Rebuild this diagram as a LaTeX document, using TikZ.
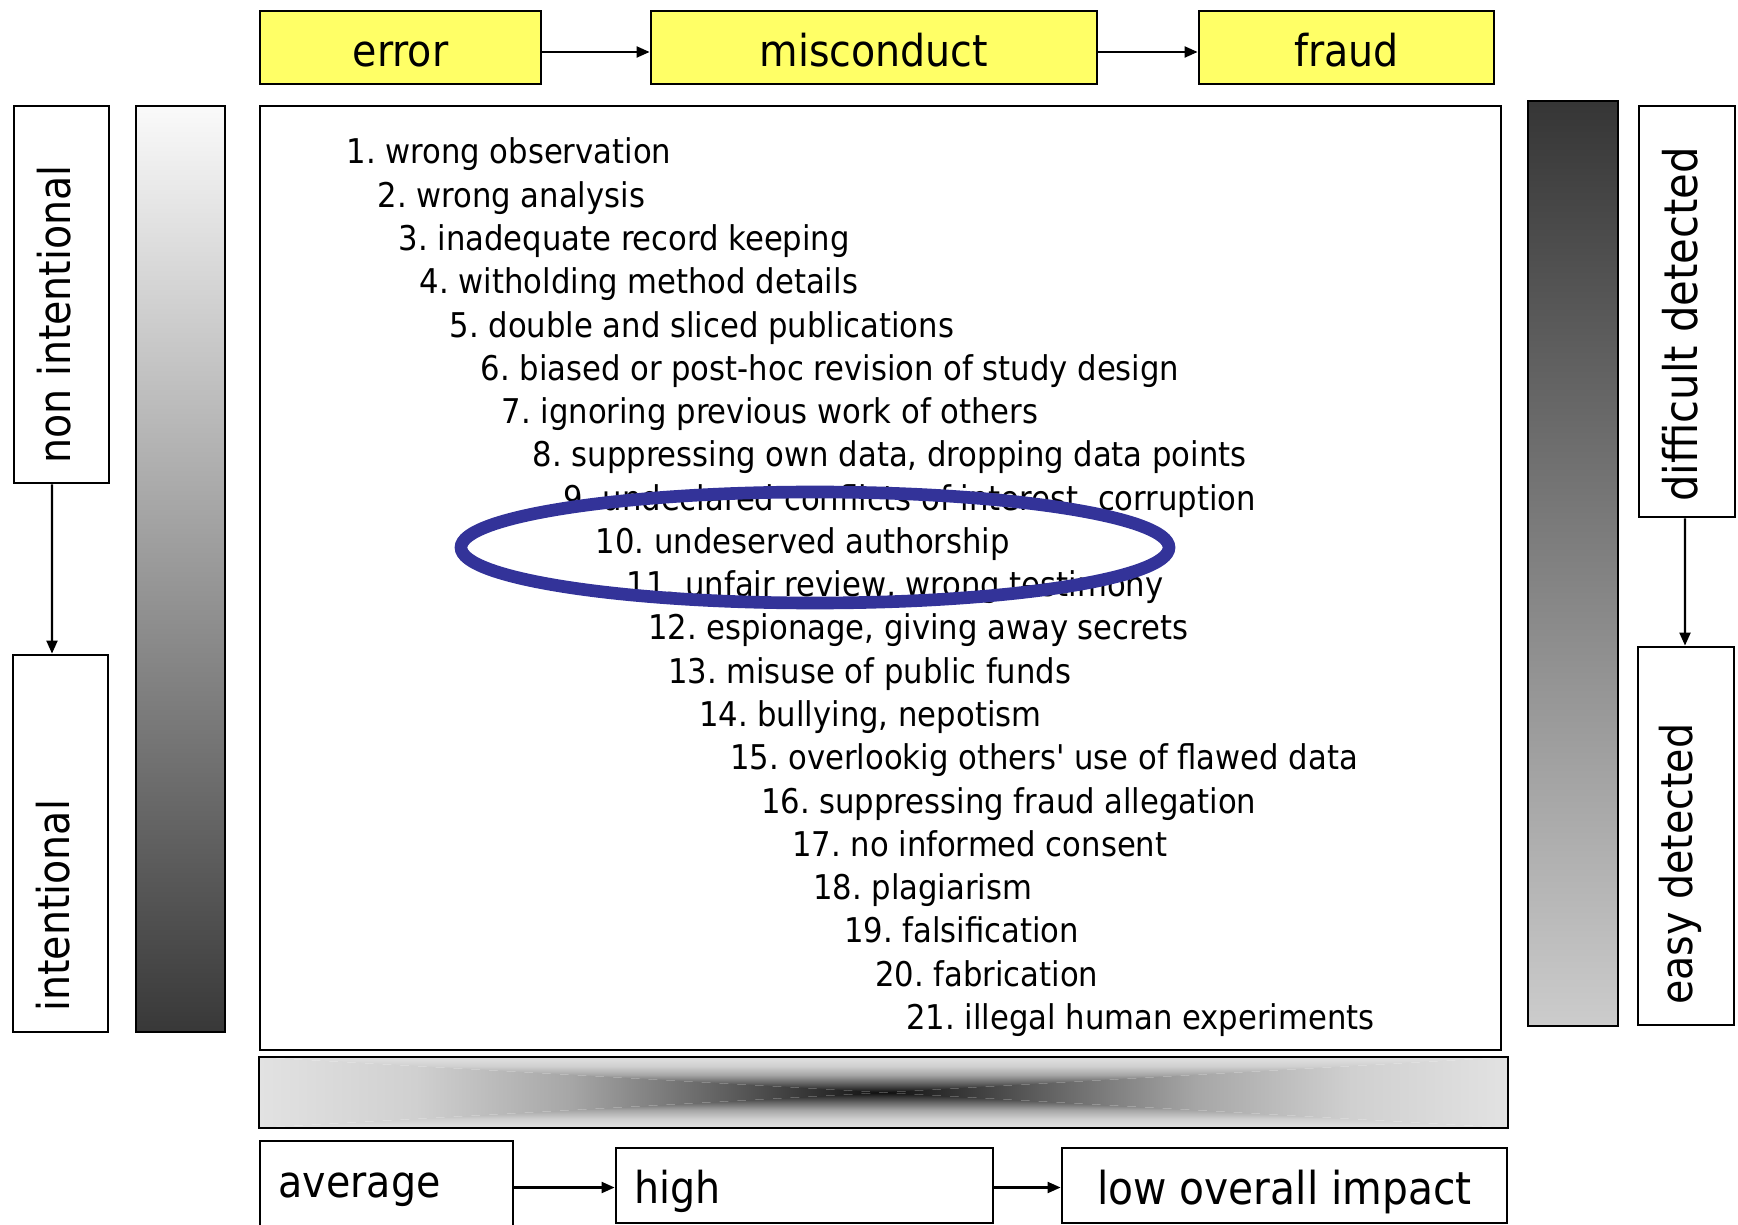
\documentclass[tikz,border=0pt]{standalone}
\usepackage{fontspec}
\setmainfont{DejaVu Sans Condensed}
\usetikzlibrary{arrows.meta, positioning, calc}
\definecolor{boxyellow}{HTML}{FFFF66}
\definecolor{ringblue}{HTML}{333399}
\definecolor{barA}{HTML}{E2E2E2}
\definecolor{barB}{HTML}{D0D0D0}
\definecolor{barC}{HTML}{A6A6A6}
\definecolor{barD}{HTML}{5E5E5E}
\definecolor{barE}{HTML}{101010}
\newcommand\biglbl{\fontsize{12.5}{15}\selectfont}

% light at the rim, dark towards the middle line
\pgfdeclarehorizontalshading{fadeLR}{100bp}{color(0bp)=(barA); color(25bp)=(barA);
  color(37.5bp)=(barB); color(50bp)=(barC); color(62.5bp)=(barD); color(75bp)=(barE); color(100bp)=(barE)}
\pgfdeclarehorizontalshading{fadeRL}{100bp}{color(0bp)=(barE); color(25bp)=(barE);
  color(37.5bp)=(barD); color(50bp)=(barC); color(62.5bp)=(barB); color(75bp)=(barA); color(100bp)=(barA)}
\pgfdeclareverticalshading{fadeUp}{100bp}{color(0bp)=(barA); color(25bp)=(barA);
  color(37.5bp)=(barB); color(50bp)=(barC); color(62.5bp)=(barD); color(75bp)=(barE); color(100bp)=(barE)}
\pgfdeclareverticalshading{fadeDown}{100bp}{color(0bp)=(barE); color(25bp)=(barE);
  color(37.5bp)=(barD); color(50bp)=(barC); color(62.5bp)=(barB); color(75bp)=(barA); color(100bp)=(barA)}

\begin{document}
\begin{tikzpicture}[x=1mm, y=-1mm,
    box/.style={draw, line width=0.8pt, inner sep=0pt, font=\biglbl},
    ybox/.style={box, fill=boxyellow, minimum height=7.3mm, text height=3.9mm, text depth=0mm},
    vbox/.style={box, minimum width=9.5mm},
    hbox/.style={box, minimum height=7.5mm},
    bar/.style={draw, line width=0.5pt, inner sep=0pt},
    arr/.style={line width=0.6pt, -{Triangle[length=1.3mm, width=1.1mm]}},
    item/.style={anchor=base west, inner sep=0pt, font=\fontsize{9.7}{11}\selectfont},
    vlbl/.style={rotate=90, anchor=west, inner sep=0pt, font=\biglbl}]
  \useasboundingbox (0,0) rectangle (173.8,122.5);

  % top row
  \node[ybox, minimum width=28.1mm] (error) at (40.05,4.75) {error};
  \node[ybox, minimum width=44.6mm] (misconduct) at (87.4,4.75) {misconduct};
  \node[ybox, minimum width=29.5mm] (fraud) at (134.65,4.75) {fraud};
  \draw[arr] ([yshift=-0.45mm]error.east) -- ([yshift=-0.45mm]misconduct.west);
  \draw[arr] ([yshift=-0.45mm]misconduct.east) -- ([yshift=-0.45mm]fraud.west);

  % left side
  \node[vbox, minimum height=37.7mm] (nonint) at (6.15,29.45) {};
  \node[vbox, minimum height=37.7mm] (intent) at (6.05,84.35) {};
  \node[vlbl] at ($(nonint.south)+(-0.75,-2)$) {non intentional};
  \node[vlbl] at ($(intent.south)+(-0.7,-2.1)$) {intentional};
  \draw[arr] ([xshift=-0.95mm]nonint.south) -- ([xshift=-0.85mm]intent.north);
  \node[bar, minimum width=8.9mm, minimum height=92.6mm,
        top color=white!98!black, bottom color=black!78] (lbar) at (18.05,56.9) {};

  % right side
  \node[bar, minimum width=9mm, minimum height=92.5mm,
        top color=black!79, bottom color=black!20] (rbar) at (157.3,56.35) {};
  \node[vbox, minimum width=9.6mm, minimum height=41.1mm] (diff) at (168.7,31.15) {};
  \node[vbox, minimum width=9.6mm, minimum height=37.8mm] (easy) at (168.6,83.6) {};
  \node[vlbl, font=\fontsize{13.2}{15}\selectfont] at ($(diff.south)+(-0.7,-1.6)$) {difficult detected};
  \node[vlbl] at ($(easy.south)+(-0.6,-2.1)$) {easy detected};
  \draw[arr] ([xshift=-0.2mm]diff.south) -- ([xshift=-0.1mm]easy.north);

  % list of items
  \node[draw, line width=0.8pt, minimum width=124.1mm, minimum height=94.4mm] (list) at (88.05,57.8) {};
  \foreach \x/\t [count=\i] in {34.58/wrong observation, 37.69/wrong analysis,
      39.79/inadequate record keeping, 41.90/witholding method details,
      44.89/double and sliced publications, 47.99/biased or post-hoc revision of study design,
      50.10/ignoring previous work of others, 53.20/{suppressing own data, dropping data points},
      56.31/{undeclared conflicts of interest, corruption}, 59.52/undeserved authorship,
      62.62/{unfair review, wrong testimony}, 64.73/{espionage, giving away secrets},
      66.73/misuse of public funds, 69.83/{bullying, nepotism},
      72.93/overlookig others\textquotesingle\ use of flawed data, 76.04/suppressing fraud allegation,
      79.14/no informed consent, 81.25/plagiarism, 84.35/falsification,
      87.45/fabrication, 90.56/illegal human experiments}
    \node[item] (item\i) at (\x, {15.19+(\i-1)*4.328+1.2}) {\i.\ \t};
  \draw[ringblue, line width=3.6pt] (81.5,54.75) ellipse [x radius=35.4, y radius=5.55];

  % impact bar
  \node[inner sep=0pt, minimum width=124.7mm, minimum height=6.9mm] (hbar) at (88.35,109.25) {};
  \shade[shading=fadeDown] (hbar.north west) -- (hbar.north east) -- (hbar.center) -- cycle;
  \shade[shading=fadeUp] (hbar.south west) -- (hbar.south east) -- (hbar.center) -- cycle;
  \shade[shading=fadeLR] (hbar.north west) -- (hbar.center) -- (hbar.south west) -- cycle;
  \shade[shading=fadeRL] (hbar.north east) -- (hbar.center) -- (hbar.south east) -- cycle;
  \draw[line width=0.5pt] (hbar.north west) rectangle (hbar.south east);

  % bottom row
  \node[box, minimum width=25.3mm, minimum height=11.9mm] (average) at (38.65,120.05) {};
  \node[anchor=west, inner sep=0pt, font=\biglbl] at (27.8,119.0) {average};
  \node[hbox, minimum width=37.7mm] (high) at (80.45,118.55) {};
  \node[anchor=west, inner sep=0pt, font=\biglbl] at (63.4,119.1) {high};
  \node[hbox, minimum width=44.5mm, text height=4.4mm, text depth=0.7mm,
        font=\fontsize{12.9}{15}\selectfont] (low) at (128.45,118.55) {low overall impact};
  \draw[arr] ([yshift=-0.2mm]average.east |- high.west) -- ([yshift=-0.2mm]high.west);
  \draw[arr] ([yshift=-0.2mm]high.east) -- ([yshift=-0.2mm]low.west);
\end{tikzpicture}
\end{document}
